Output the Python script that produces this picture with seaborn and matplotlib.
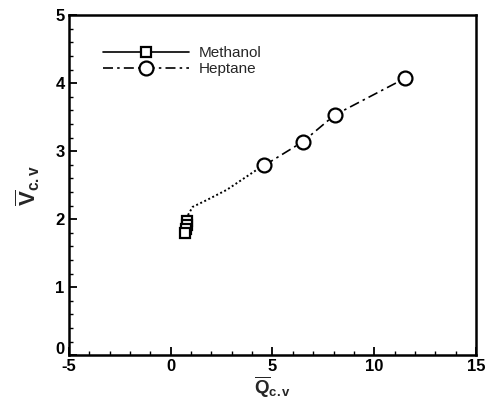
import matplotlib
matplotlib.use("Agg")
import matplotlib.pyplot as plt
import matplotlib.transforms as mtransforms
import pandas as pd
import seaborn as sns
from matplotlib.ticker import MultipleLocator

# values
methanol_q = [0.82, 0.80, 0.76, 0.72]
methanol_v = [1.97, 1.91, 1.85, 1.80]

heptane_q = [4.6, 6.5, 8.05, 11.5]
heptane_v = [2.79, 3.14, 3.53, 4.07]

# dotted connector from the methanol group to the first heptane point
link_q = [0.85, 1.08, 1.77, 2.75, 4.2]
link_v = [2.06, 2.18, 2.28, 2.43, 2.72]

sns.set_theme(style="ticks")
plt.rcParams["font.family"] = ["Liberation Sans", "DejaVu Sans"]
plt.rcParams["axes.unicode_minus"] = False
plt.rcParams["mathtext.fontset"] = "custom"
plt.rcParams["mathtext.rm"] = "Liberation Sans"
plt.rcParams["mathtext.it"] = "Liberation Sans:italic"
plt.rcParams["mathtext.bf"] = "Liberation Sans:bold"

fig = plt.figure(figsize=(4.99, 3.99), dpi=100)
ax = fig.add_axes([0.138, 0.110, 0.816, 0.852])

methanol = pd.DataFrame({"Q": methanol_q, "V": methanol_v})
heptane = pd.DataFrame({"Q": heptane_q, "V": heptane_v})
link = pd.DataFrame({"Q": link_q, "V": link_v})

sns.lineplot(data=link, x="Q", y="V", sort=False, ax=ax, color="black",
             linestyle=(0, (1, 1.3)), linewidth=1.4)
sns.lineplot(data=methanol, x="Q", y="V", sort=False, ax=ax, color="black",
             linewidth=1.2, marker="s", markersize=7.5,
             markerfacecolor="white", markeredgecolor="black",
             markeredgewidth=1.6, label="Methanol")
sns.lineplot(data=heptane, x="Q", y="V", sort=False, ax=ax, color="black",
             linewidth=1.2, linestyle=(0, (6, 2.5, 1.5, 2.5)), marker="o",
             markersize=10, markerfacecolor="white", markeredgecolor="black",
             markeredgewidth=1.6, label="Heptane")

ax.set_xlim(-5, 15)
ax.set_ylim(0, 5)
ax.xaxis.set_major_locator(MultipleLocator(5))
ax.xaxis.set_minor_locator(MultipleLocator(1))
ax.yaxis.set_major_locator(MultipleLocator(1))
ax.yaxis.set_minor_locator(MultipleLocator(0.2))
ax.tick_params(which="both", direction="in", top=False, right=False,
               colors="black", labelsize=12)
ax.tick_params(axis="x", pad=3)
ax.tick_params(axis="y", pad=3)
ax.tick_params(which="major", length=6, width=1.3)
ax.tick_params(which="minor", length=3, width=1.0)
for s in ax.spines.values():
    s.set_visible(True)
    s.set_linewidth(1.8)
    s.set_color("black")

ax.set_xlabel(r"$\overline{\mathbf{Q}}_{\mathbf{c.v}}$", fontsize=13.5,
              labelpad=0)
ax.set_ylabel(r"$\overline{\mathbf{V}}_{\mathbf{c.v}}$", fontsize=16,
              labelpad=10)

ax.legend(loc="upper left", bbox_to_anchor=(0.05, 0.95), frameon=False,
          handlelength=5.6, handletextpad=0.7, fontsize=11,
          labelspacing=0.15, numpoints=1)

# bold tick labels; lift the y "0" a little so it clears the x "-5"
fig.canvas.draw()
for lbl in ax.get_xticklabels() + ax.get_yticklabels():
    lbl.set_fontweight("bold")
for lbl in ax.get_yticklabels():
    if lbl.get_text() == "0":
        lift = mtransforms.ScaledTranslation(0, 5 / 72, fig.dpi_scale_trans)
        lbl.set_transform(lbl.get_transform() + lift)

fig.savefig("out.png", dpi=100)
